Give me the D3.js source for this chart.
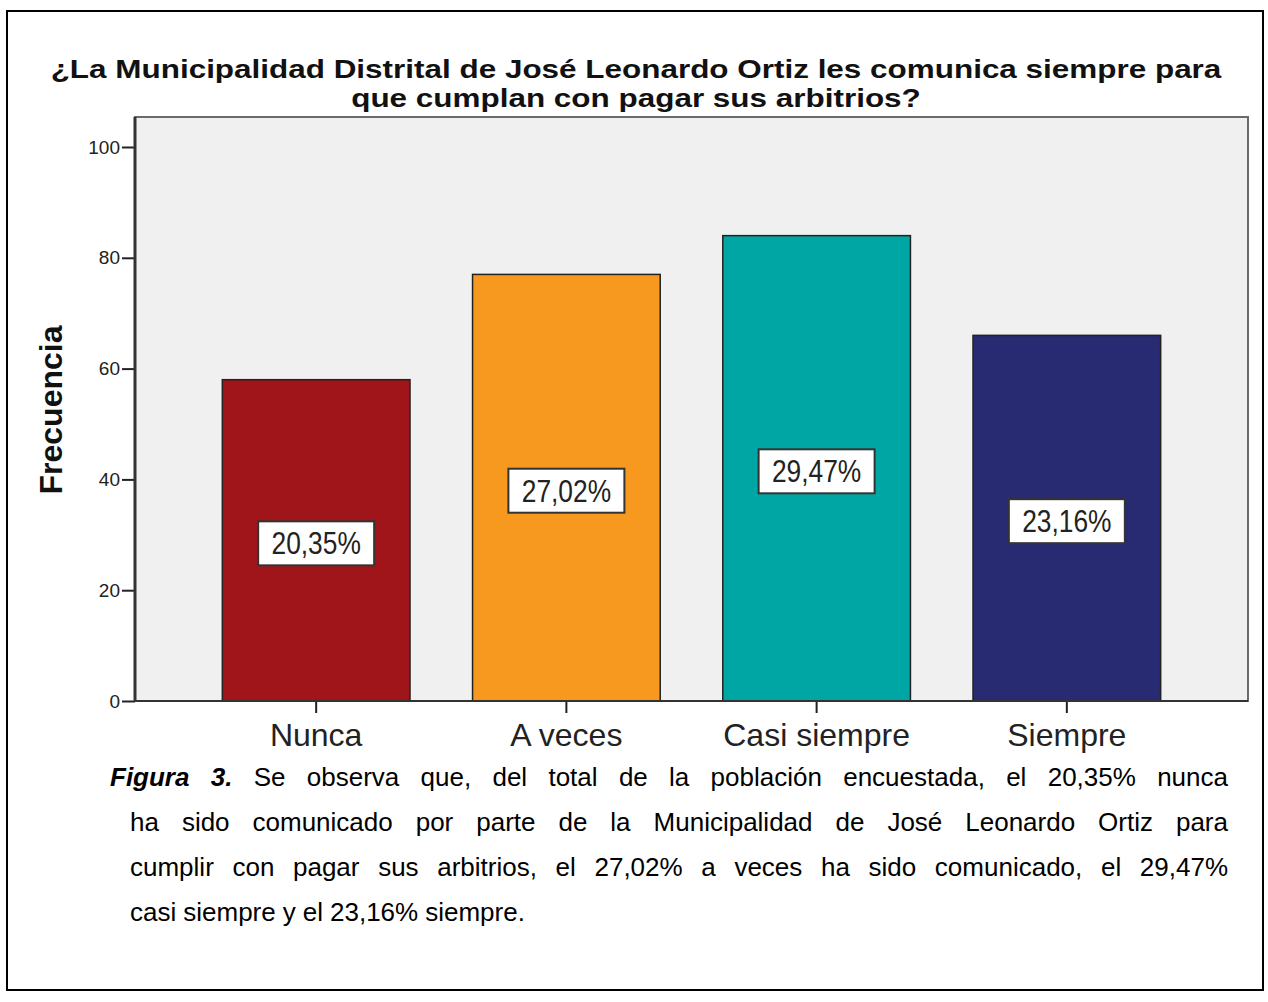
<!DOCTYPE html>
<html lang="es">

<head>
  <meta charset="UTF-8">
  <title>frecuencia</title>
  <style>
    body {
      margin: 0;
      background: #fff;
    }

    svg text {
      font-family: Arial, "Liberation Sans", sans-serif;
    }
  </style>
</head>

<body>
  <div id="chart"></div>
</body>
<script src="https://d3js.org/d3.v7.min.js"></script>
<script>
  // datos
  const categories = ['Nunca', 'A veces', 'Casi siempre', 'Siempre']
  const counts = [58, 77, 84, 66]
  const percentLabels = ['20,35%', '27,02%', '29,47%', '23,16%']
  const barColors = ['#a0151a', '#f7981f', '#00a6a3', '#282a72']
  const yTicks = [0, 20, 40, 60, 80, 100]
  const titleLines = [
    '¿La Municipalidad Distrital de José Leonardo Ortiz les comunica siempre para',
    'que cumplan con pagar sus arbitrios?'
  ]
  const captionLines = [
    'Se observa que, del total de la población encuestada, el 20,35% nunca',
    'ha sido comunicado por parte de la Municipalidad de José Leonardo Ortiz para',
    'cumplir con pagar sus arbitrios, el 27,02% a veces ha sido comunicado, el 29,47%',
    'casi siempre y el 23,16% siempre.'
  ]

  const W = 1268, H = 1002
  const plot = { left: 135, top: 117, right: 1248, bottom: 701 }

  const svg = d3.select('#chart').append('svg')
    .attr('width', W)
    .attr('height', H)

  // marco exterior
  svg.append('rect')
    .attr('x', 7).attr('y', 11)
    .attr('width', 1256).attr('height', 979)
    .attr('fill', 'none')
    .attr('stroke', '#000')
    .attr('stroke-width', 2)

  // titulo (el original esta algo estirado a lo ancho)
  svg.append('g').selectAll('text')
    .data(titleLines)
    .enter()
    .append('text')
    .attr('transform', (d, i) => `translate(636, ${78 + i * 29}) scale(1.21,1)`)
    .attr('text-anchor', 'middle')
    .attr('font-size', '26px')
    .attr('font-weight', 'bold')
    .attr('fill', '#111')
    .text(d => d)

  const xScale = d3.scaleBand()
    .domain(categories)
    .range([plot.left, plot.right])
    .paddingInner(0.25)
    .paddingOuter(0.349)

  const yScale = d3.scaleLinear()
    .domain([0, 100])
    .range([plot.bottom, 147])

  // fondo del area
  svg.append('rect')
    .attr('x', plot.left).attr('y', plot.top)
    .attr('width', plot.right - plot.left)
    .attr('height', plot.bottom - plot.top)
    .attr('fill', '#f0f0f0')
    .attr('stroke', '#6a6a6a')
    .attr('stroke-width', 2)

  // barras
  svg.append('g').selectAll('rect')
    .data(counts)
    .enter()
    .append('rect')
    .attr('x', (d, i) => xScale(categories[i]))
    .attr('y', d => yScale(d))
    .attr('width', xScale.bandwidth())
    .attr('height', d => yScale(0) - yScale(d))
    .attr('fill', (d, i) => barColors[i])
    .attr('stroke', '#222')
    .attr('stroke-width', 1.5)

  // etiquetas de porcentaje
  const lab = svg.append('g').selectAll('g')
    .data(counts)
    .enter()
    .append('g')
    .attr('transform', (d, i) => {
      let cx = xScale(categories[i]) + xScale.bandwidth() / 2
      let cy = (yScale(d) + yScale(0)) / 2 + 3
      return `translate(${cx}, ${cy})`
    })
  lab.append('rect')
    .attr('x', -58).attr('y', -22)
    .attr('width', 116).attr('height', 44)
    .attr('fill', '#fff')
    .attr('stroke', '#333')
    .attr('stroke-width', 2)
  lab.append('text')
    .attr('text-anchor', 'middle')
    .attr('y', 11)
    .attr('transform', 'scale(0.85,1)')
    .attr('font-size', '31px')
    .attr('fill', '#222')
    .text((d, i) => percentLabels[i])

  // eje y
  const yAxis = d3.axisLeft(yScale)
    .tickValues(yTicks)
    .tickSize(13)
    .tickPadding(2)
  const gy = svg.append('g')
    .attr('transform', `translate(${plot.left}, 0)`)
    .call(yAxis)
  gy.select('.domain').remove()
  gy.selectAll('.tick line').attr('stroke', '#222').attr('stroke-width', 2)
  gy.selectAll('.tick text')
    .attr('font-size', '19px')
    .attr('fill', '#222')
  svg.append('line')
    .attr('x1', plot.left).attr('x2', plot.left)
    .attr('y1', plot.top).attr('y2', plot.bottom + 1)
    .attr('stroke', '#333')
    .attr('stroke-width', 3)

  // eje x
  const xAxis = d3.axisBottom(xScale)
    .tickSize(12)
    .tickPadding(10)
  const gx = svg.append('g')
    .attr('transform', `translate(0, ${plot.bottom})`)
    .call(xAxis)
  gx.select('.domain').remove()
  gx.selectAll('.tick line').attr('stroke', '#222').attr('stroke-width', 2)
  gx.selectAll('.tick text')
    .attr('font-size', '32px')
    .attr('fill', '#222')
  svg.append('line')
    .attr('x1', plot.left).attr('x2', plot.right)
    .attr('y1', plot.bottom).attr('y2', plot.bottom)
    .attr('stroke', '#333')
    .attr('stroke-width', 2)

  // titulo eje y
  svg.append('text')
    .attr('transform', `translate(62, 410) rotate(-90)`)
    .attr('text-anchor', 'middle')
    .attr('font-size', '32px')
    .attr('font-weight', 'bold')
    .attr('fill', '#111')
    .text('Frecuencia')

  // texto de la figura, justificado
  const capRight = 1228, capTop = 786, capStep = 45
  const cap = svg.append('g')
  captionLines.forEach(function (line, li) {
    let capLeft = li === 0 ? 110 : 130
    let words = line.split(' ')
    let pieces = []
    if (li === 0) {
      pieces.push({ t: 'Figura', bold: true })
      pieces.push({ t: '3.', bold: true })
    }
    words.forEach(w => pieces.push({ t: w, bold: false }))
    let y = capTop + li * capStep
    let nodes = pieces.map(p => {
      let t = cap.append('text')
        .attr('y', y)
        .attr('font-size', '26px')
        .attr('fill', '#000')
        .text(p.t)
      if (p.bold) t.attr('font-weight', 'bold').attr('font-style', 'italic')
      return t
    })
    let widths = nodes.map(n => n.node().getComputedTextLength())
    let total = d3.sum(widths)
    let last = li === captionLines.length - 1
    let gap = last ? 7 : (capRight - capLeft - total) / (nodes.length - 1)
    let x = capLeft
    nodes.forEach((n, i) => {
      n.attr('x', x)
      x += widths[i] + gap
    })
  })
</script>

</html>
